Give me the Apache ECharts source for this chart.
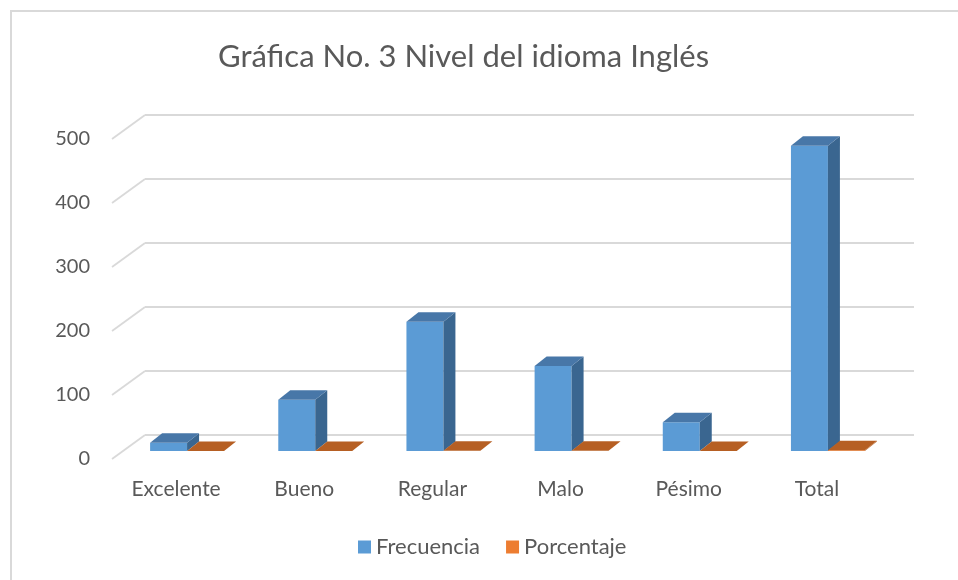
<!DOCTYPE html>
<html>
<head>
<meta charset="utf-8">
<script src="https://cdn.jsdelivr.net/npm/echarts@6/dist/echarts.min.js"></script>
<style>
html,body{margin:0;padding:0;background:#fff;}
#chart{width:958px;height:580px;}
</style>
</head>
<body>
<div id="chart"></div>
<script>
var categories = ['Excelente', 'Bueno', 'Regular', 'Malo', 'Pésimo', 'Total'];
var frecuencia = [13, 80, 202, 133, 45, 477];
var porcentaje = [0.03, 0.17, 0.43, 0.28, 0.10, 1.00];
var yTicks = [0, 100, 200, 300, 400, 500];
var titleText = 'Gráfica No. 3 Nivel del idioma Inglés';

var FONT = 'Lato';
var TXT = '#595959';
// oblique projection offsets
var BACK = [22, -16];   // bar plane -> back wall
var FRONT = [-11, 8];   // bar plane -> front edge
var DEPTH = [12, -9.5]; // bar depth

var chart = echarts.init(document.getElementById('chart'), null, {renderer: 'canvas'});

function wallItem(params, api) {
  var cs = params.coordSys;
  var v = api.value(1);
  var y = api.coord([0, v])[1];
  var left = cs.x, right = cs.x + cs.width;
  var style = {stroke: '#d9d9d9', lineWidth: 1.8, fill: null};
  return {
    type: 'group',
    children: [
      {type: 'line', shape: {x1: left + BACK[0], y1: y + BACK[1], x2: right + BACK[0], y2: y + BACK[1]}, style: style},
      {type: 'line', shape: {x1: left + BACK[0], y1: y + BACK[1], x2: left + FRONT[0], y2: y + FRONT[1]}, style: style}
    ]
  };
}

function barItemFactory(side, cFront, cTop, cSide) {
  return function (params, api) {
    var idx = api.value(0);
    var val = api.value(1);
    var c = api.coord([idx, val]);
    var b = api.coord([idx, 0]);
    var band = api.size([1, 0])[0];
    var w = band * 0.2885;
    var x0 = side === 0 ? c[0] - w : c[0];
    var x1 = x0 + w;
    var top = c[1], base = b[1];
    var dx = DEPTH[0], dy = DEPTH[1];
    var children = [];
    if (base - top > 0.5) {
      children.push({type: 'rect', shape: {x: x0, y: top, width: w, height: base - top}, style: {fill: cFront}});
      children.push({type: 'polygon', shape: {points: [[x1, top], [x1 + dx, top + dy], [x1 + dx, base + dy], [x1, base]]}, style: {fill: cSide}});
    }
    children.push({type: 'polygon', shape: {points: [[x0, top], [x0 + dx, top + dy], [x1 + dx, top + dy], [x1, top]]}, style: {fill: cTop}});
    return {type: 'group', children: children};
  };
}

var option = {
  backgroundColor: '#fff',
  animation: false,
  title: {
    text: titleText,
    left: 218,
    top: 41,
    padding: 0,
    textStyle: {fontFamily: FONT, fontSize: 31, fontWeight: 'normal', color: TXT}
  },
  legend: {
    left: 358,
    top: 536,
    padding: 0,
    itemWidth: 13,
    itemHeight: 13,
    itemGap: 26,
    icon: 'rect',
    textStyle: {fontFamily: FONT, fontSize: 22, color: TXT},
    data: ['Frecuencia', 'Porcentaje']
  },
  grid: {left: 123, right: 66, top: 131, bottom: 129, containLabel: false},
  xAxis: {
    type: 'category',
    data: categories,
    axisLine: {show: false},
    axisTick: {show: false},
    splitLine: {show: false},
    axisLabel: {fontFamily: FONT, fontSize: 21, color: TXT, margin: 28, padding: [0, 22, 0, 0]}
  },
  yAxis: {
    type: 'value',
    min: 0, max: 500, interval: 100,
    axisLine: {show: false},
    axisTick: {show: false},
    splitLine: {show: false},
    axisLabel: {fontFamily: FONT, fontSize: 20, color: TXT, margin: 33, verticalAlign: 'top', lineHeight: 16}
  },
  series: [
    {
      type: 'custom',
      name: 'wall',
      silent: true,
      z: 1,
      renderItem: wallItem,
      data: yTicks.map(function (v) { return [0, v]; })
    },
    {
      type: 'custom',
      name: 'Frecuencia',
      z: 2,
      itemStyle: {color: '#5b9bd5'},
      renderItem: barItemFactory(0, '#5b9bd5', '#4877a8', '#3a6690'),
      data: frecuencia.map(function (v, i) { return [i, v]; })
    },
    {
      type: 'custom',
      name: 'Porcentaje',
      z: 3,
      itemStyle: {color: '#ed7d31'},
      renderItem: barItemFactory(1, '#ed7d31', '#b65f23', '#b65f23'),
      data: porcentaje.map(function (v, i) { return [i, v]; })
    }
  ],
  graphic: [
    {type: 'rect', shape: {x: 11, y: 11, width: 1200, height: 1200}, style: {fill: null, stroke: '#d9d9d9', lineWidth: 2}, z: 0, silent: true}
  ]
};
chart.setOption(option);
</script>
</body>
</html>
